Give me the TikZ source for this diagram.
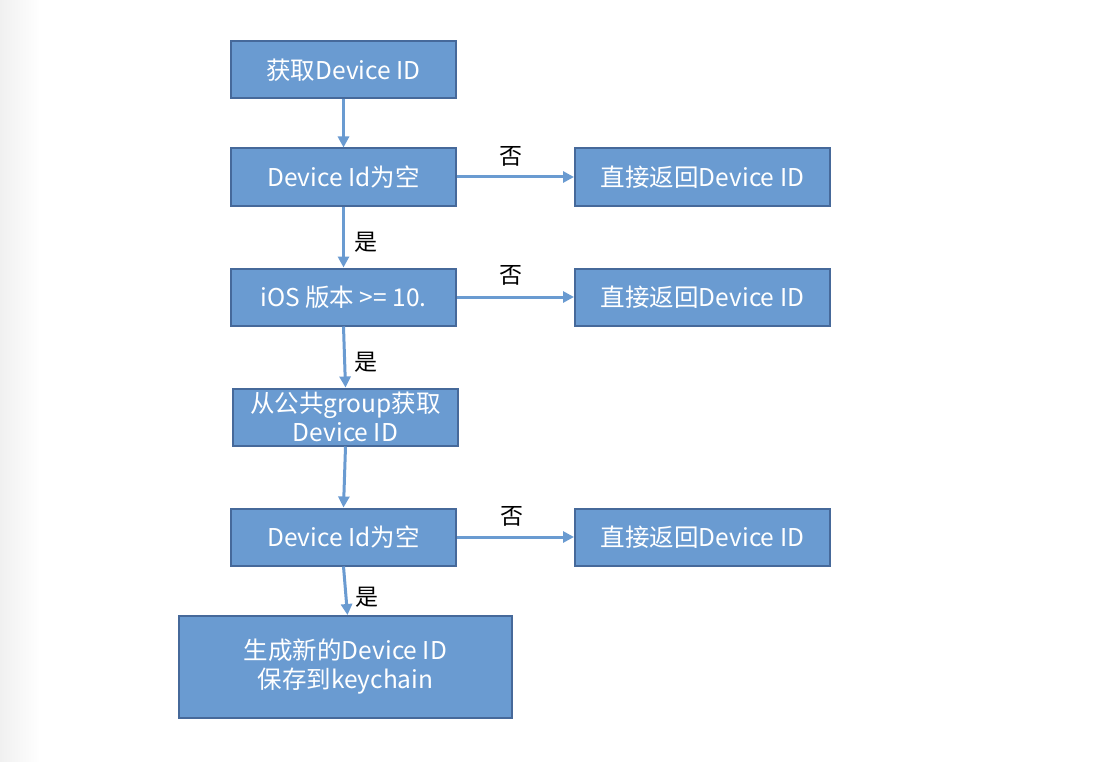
\documentclass[tikz,border=0pt]{standalone}
\usepackage{fontspec}
\setmainfont{Noto Sans CJK SC}
\usetikzlibrary{arrows.meta}
\definecolor{boxfill}{HTML}{6A9BD1}
\definecolor{boxline}{HTML}{46699A}
\definecolor{arrowc}{HTML}{6A9BD1}
\definecolor{edgegray}{HTML}{F0F0F0}
\begin{document}
\begin{tikzpicture}[x=1pt,y=-1pt,
  flowbox/.style={draw=boxline,line width=2pt,fill=boxfill,text=white,
    minimum width=225pt,minimum height=57pt,inner sep=0pt,align=center,
    font=\fontsize{24.5}{29}\selectfont},
  sidebox/.style={flowbox,minimum width=255pt},
  conn/.style={draw=arrowc,line width=3pt,-{Triangle[length=11pt,width=11pt]}},
  lbl/.style={text=black,inner sep=0pt,font=\fontsize{23}{26}\selectfont}]
\useasboundingbox (0,0) rectangle (1102,762);
\fill[white] (0,0) rectangle (1102,762);
\shade[left color=edgegray,right color=white] (0,0) rectangle (40,762);
% main column
\node[flowbox] (b1) at (343.5,70) {获取Device ID};
\node[flowbox] (b2) at (343.5,177) {Device Id为空};
\node[flowbox] (b3) at (343.5,297) {iOS 版本 >= 10.};
\node[flowbox] (b4) at (345.5,417) {从公共group获取\\Device ID};
\node[flowbox] (b5) at (343.5,537) {Device Id为空};
\node[flowbox,minimum width=333pt,minimum height=102pt] (b6) at (345.5,667) {生成新的Device ID\\保存到keychain};
% side boxes
\node[sidebox] (r1) at (702.5,177) {直接返回Device ID};
\node[sidebox] (r2) at (702.5,297) {直接返回Device ID};
\node[sidebox] (r3) at (702.5,537) {直接返回Device ID};
% connectors
\draw[conn] (b1.south) -- (b2.north);
\draw[conn] (b2.south) -- (b3.north);
\draw[conn] (b3.south) -- (b4.north);
\draw[conn] (b4.south) -- (b5.north);
\draw[conn] (b5.south) -- ([xshift=2pt]b6.north);
\draw[conn] (b2.east) -- (r1.west);
\draw[conn] (b3.east) -- (r2.west);
\draw[conn] (b5.east) -- (r3.west);
% labels
\node[lbl] (n1) at (511,156) {否};
\node[lbl] (n2) at (511,275) {否};
\node[lbl] (n3) at (512,516) {否};
\node[lbl] (y1) at (366,242) {是};
\node[lbl] (y2) at (366,362) {是};
\node[lbl] (y3) at (367,597) {是};
\end{tikzpicture}
\end{document}
